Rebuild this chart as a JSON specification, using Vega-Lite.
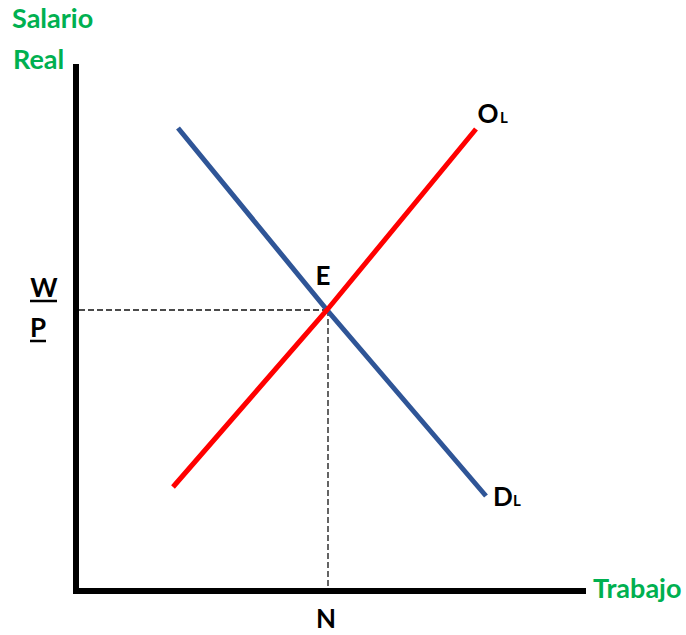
{
  "$schema": "https://vega.github.io/schema/vega-lite/v6.json",
  "width": 686,
  "height": 635,
  "padding": 0,
  "autosize": {"type": "none"},
  "background": "white",
  "config": {"view": {"stroke": null}},
  "datasets": {
    "axes": [
      {"name": "vertical", "x": 0, "y": -3, "x2": 0, "y2": 527},
      {"name": "horizontal", "x": -3, "y": 0, "x2": 510, "y2": 0}
    ],
    "guides": [
      {"name": "wp", "x": 3, "y": 281, "x2": 251, "y2": 281},
      {"name": "n", "x": 252, "y": 281, "x2": 252, "y2": 3}
    ],
    "curves": [
      {"series": "DL", "order": 1, "x": 102, "y": 463},
      {"series": "DL", "order": 2, "x": 251, "y": 281},
      {"series": "DL", "order": 3, "x": 410, "y": 95},
      {"series": "OL", "order": 1, "x": 97, "y": 104},
      {"series": "OL", "order": 2, "x": 251, "y": 281},
      {"series": "OL", "order": 3, "x": 400, "y": 462}
    ],
    "underlines": [
      {"name": "W", "x": -46, "y": 290, "x2": -19, "y2": 290},
      {"name": "P", "x": -46, "y": 250, "x2": -30, "y2": 250}
    ],
    "green_labels": [
      {"label": "Salario", "x": -64, "y": 563},
      {"label": "Real", "x": -63, "y": 522},
      {"label": "Trabajo", "x": 517, "y": -7}
    ],
    "main_labels": [
      {"label": "W", "x": -32, "y": 294},
      {"label": "P", "x": -38, "y": 254},
      {"label": "E", "x": 247, "y": 306},
      {"label": "N", "x": 250, "y": -37},
      {"label": "O", "x": 412, "y": 468},
      {"label": "D", "x": 427, "y": 85}
    ],
    "sub_labels": [
      {"label": "L", "x": 428, "y": 468},
      {"label": "L", "x": 441, "y": 85}
    ]
  },
  "resolve": {"scale": {"color": "independent"}},
  "layer": [
    {
      "data": {"name": "guides"},
      "mark": {"type": "rule", "color": "#111111", "strokeWidth": 1.3, "strokeDash": [6, 3]},
      "encoding": {
        "x": {"field": "x", "type": "quantitative", "scale": {"domain": [-76, 610], "zero": false, "nice": false}, "axis": null},
        "y": {"field": "y", "type": "quantitative", "scale": {"domain": [-44, 591], "zero": false, "nice": false}, "axis": null},
        "x2": {"field": "x2"},
        "y2": {"field": "y2"}
      }
    },
    {
      "data": {"name": "curves"},
      "mark": {"type": "line", "strokeWidth": 5, "strokeCap": "butt"},
      "encoding": {
        "x": {"field": "x", "type": "quantitative"},
        "y": {"field": "y", "type": "quantitative"},
        "order": {"field": "order"},
        "color": {"field": "series", "type": "nominal", "scale": {"domain": ["DL", "OL"], "range": ["#2F5597", "#FF0000"]}, "legend": null}
      }
    },
    {
      "data": {"name": "axes"},
      "mark": {"type": "rule", "color": "black", "strokeWidth": 6, "strokeCap": "butt"},
      "encoding": {
        "x": {"field": "x", "type": "quantitative"},
        "y": {"field": "y", "type": "quantitative"},
        "x2": {"field": "x2"},
        "y2": {"field": "y2"}
      }
    },
    {
      "data": {"name": "underlines"},
      "mark": {"type": "rule", "color": "black", "strokeWidth": 2.5, "strokeCap": "butt"},
      "encoding": {
        "x": {"field": "x", "type": "quantitative"},
        "y": {"field": "y", "type": "quantitative"},
        "x2": {"field": "x2"},
        "y2": {"field": "y2"}
      }
    },
    {
      "data": {"name": "green_labels"},
      "mark": {"type": "text", "font": "Lato", "fontWeight": "bold", "fontSize": 27, "color": "#00B050", "align": "left", "baseline": "alphabetic"},
      "encoding": {
        "x": {"field": "x", "type": "quantitative"},
        "y": {"field": "y", "type": "quantitative"},
        "text": {"field": "label"}
      }
    },
    {
      "data": {"name": "main_labels"},
      "mark": {"type": "text", "font": "Lato", "fontWeight": "bold", "fontSize": 26, "color": "black", "align": "center", "baseline": "alphabetic"},
      "encoding": {
        "x": {"field": "x", "type": "quantitative"},
        "y": {"field": "y", "type": "quantitative"},
        "text": {"field": "label"}
      }
    },
    {
      "data": {"name": "sub_labels"},
      "mark": {"type": "text", "font": "Lato", "fontWeight": "bold", "fontSize": 15, "color": "black", "align": "center", "baseline": "alphabetic"},
      "encoding": {
        "x": {"field": "x", "type": "quantitative"},
        "y": {"field": "y", "type": "quantitative"},
        "text": {"field": "label"}
      }
    }
  ]
}
